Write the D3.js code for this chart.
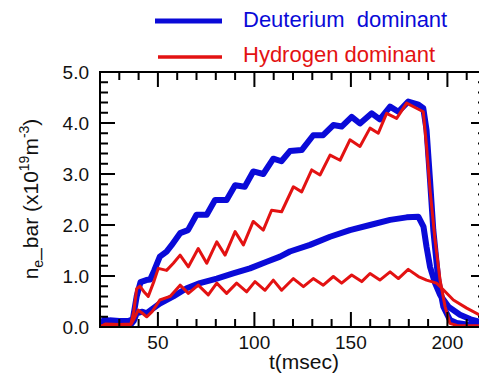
<!DOCTYPE html>
<html>
<head>
<meta charset="utf-8">
<script src="https://cdn.jsdelivr.net/npm/d3@7.9.0/dist/d3.min.js"></script>
<style>
  html, body { margin: 0; padding: 0; background: #fff; }
  svg { display: block; font-family: Arial, "Liberation Sans", sans-serif; }
</style>
</head>
<body>
<svg id="chart" width="479" height="374"></svg>
<script>
// ---- data (t in msec, density in 1e19 m^-3) ----
const dHighT = [20, 22, 25, 30, 35, 37, 39, 41, 44, 46, 48, 51, 54.5, 57, 61.5, 65.6, 70, 75.3, 79.6, 85.6, 90, 95, 99.4, 104.6, 109.8, 114, 118.4, 124.5, 130.5, 135.6, 140.9, 145.2, 150.4, 154.7, 160.8, 165, 170.3, 174.6, 179.7, 185, 187.5, 189.2, 191, 192.7, 195.3, 197.9, 201.3, 204.8, 210, 216, 220];
const dHighV = [0.0, 0.14, 0.13, 0.12, 0.12, 0.15, 0.6, 0.88, 0.92, 0.93, 1.1, 1.38, 1.48, 1.6, 1.84, 1.9, 2.2, 2.2, 2.49, 2.49, 2.78, 2.75, 3.05, 3.0, 3.3, 3.25, 3.45, 3.47, 3.76, 3.76, 3.96, 3.93, 4.12, 3.99, 4.19, 4.07, 4.32, 4.22, 4.42, 4.36, 4.29, 3.86, 2.88, 1.9, 0.92, 0.4, 0.14, 0.08, 0.05, 0.04, 0.03];

const dLowT = [20, 25, 30, 36, 37.5, 39, 42, 44.2, 47, 51, 58, 64.9, 71.8, 80.5, 89, 97.7, 106.4, 113.3, 118.4, 128.8, 139.2, 149.5, 159.9, 170.3, 178.9, 185, 187.6, 189.2, 191, 193.6, 196.2, 200.5, 206.5, 212, 220];
const dLowV = [0.0, 0.05, 0.05, 0.05, 0.12, 0.27, 0.3, 0.27, 0.35, 0.46, 0.6, 0.76, 0.86, 0.95, 1.05, 1.15, 1.28, 1.38, 1.48, 1.61, 1.77, 1.9, 2.0, 2.1, 2.15, 2.16, 1.97, 1.57, 1.18, 0.86, 0.63, 0.4, 0.24, 0.15, 0.07];

const hHighT = [20, 23, 30, 36, 37.5, 39, 40.7, 43, 45, 48, 50.2, 54.5, 58, 61.5, 65.8, 70.9, 75.3, 80.5, 84.8, 90, 94.3, 99.4, 104.6, 108.9, 114.1, 120.2, 124.5, 129.7, 134, 139.2, 144.4, 149.5, 154.7, 159.9, 164.2, 168.5, 173.7, 178.9, 184, 187.5, 189.2, 191, 193.6, 196.2, 198.8, 201.3, 205, 220];
const hHighV = [0.0, 0.06, 0.05, 0.06, 0.3, 0.75, 0.8, 0.68, 0.6, 0.9, 1.15, 1.11, 1.25, 1.41, 1.18, 1.54, 1.25, 1.67, 1.41, 1.87, 1.61, 2.07, 1.9, 2.29, 2.26, 2.75, 2.65, 3.08, 2.98, 3.37, 3.27, 3.67, 3.54, 3.9, 3.8, 4.19, 4.09, 4.39, 4.29, 4.22, 3.54, 2.69, 1.71, 0.92, 0.4, 0.07, 0.03, 0.02];

const hLowT = [20, 23, 30, 36, 37.5, 39.8, 42, 44.2, 47, 51, 56.3, 61.5, 65.8, 70.9, 76.1, 80.5, 85.6, 90.8, 96, 100.3, 105.5, 109.8, 114.1, 120.2, 125.4, 130.5, 135.7, 140.9, 145.2, 150.4, 155.6, 159.9, 165, 170.3, 174.6, 179.7, 185, 189.2, 194.4, 197.9, 203.1, 210, 216.4, 220];
const hLowV = [0.0, 0.05, 0.04, 0.05, 0.15, 0.33, 0.27, 0.2, 0.3, 0.53, 0.6, 0.82, 0.66, 0.82, 0.63, 0.86, 0.66, 0.86, 0.69, 0.89, 0.72, 0.92, 0.72, 0.95, 0.79, 0.95, 0.82, 0.99, 0.86, 1.02, 0.89, 1.05, 0.92, 1.08, 0.95, 1.13, 0.99, 0.92, 0.86, 0.73, 0.53, 0.37, 0.24, 0.2];

const xMajorTicks = [50, 100, 150, 200];
const yMajorTicks = [0, 1, 2, 3, 4, 5];
const legendLabels = ['Deuterium  dominant', 'Hydrogen dominant'];

const BLUE = '#0a0ad8';
const RED = '#e31212';

// ---- layout ----
const svg = d3.select('#chart');
const x = d3.scaleLinear().domain([20, 220]).range([100, 486]);
const y = d3.scaleLinear().domain([0, 5]).range([327, 72]);

svg.append('clipPath').attr('id', 'plot-clip')
  .append('rect')
  .attr('x', x(20)).attr('y', y(5))
  .attr('width', x(220) - x(20)).attr('height', y(0) - y(5));

const zip = (ts, vs) => ts.map((t, i) => [t, vs[i]]);
const line = d3.line().x(d => x(d[0])).y(d => y(d[1]));

// ---- curves (blue first, red on top) ----
const series = [
  { pts: zip(dHighT, dHighV), color: BLUE, w: 6 },
  { pts: zip(dLowT, dLowV), color: BLUE, w: 6 },
  { pts: zip(hHighT, hHighV), color: RED, w: 3 },
  { pts: zip(hLowT, hLowV), color: RED, w: 3 },
];

svg.append('g').attr('clip-path', 'url(#plot-clip)')
  .selectAll('path')
  .data(series)
  .join('path')
  .attr('d', d => line(d.pts))
  .attr('fill', 'none')
  .attr('stroke', d => d.color)
  .attr('stroke-width', d => d.w)
  .attr('stroke-linejoin', 'round')
  .attr('stroke-linecap', 'round');

// ---- frame + ticks ----
const xMinor = d3.range(30, 220, 10).filter(t => !xMajorTicks.includes(t));
const yMinor = d3.range(0.2, 5, 0.2).filter(v => Math.abs(v - Math.round(v)) > 0.01);
const axes = svg.append('g').attr('stroke', '#000').attr('stroke-width', 2);

axes.append('rect')
  .attr('x', x(20)).attr('y', y(5))
  .attr('width', x(220) - x(20)).attr('height', y(0) - y(5))
  .attr('fill', 'none');

const tickPath = [];
xMajorTicks.forEach(t => {
  tickPath.push(`M${x(t)},${y(0)}v-15`, `M${x(t)},${y(5)}v15`);
});
xMinor.forEach(t => {
  tickPath.push(`M${x(t)},${y(0)}v-8`, `M${x(t)},${y(5)}v8`);
});
yMajorTicks.slice(1, -1).forEach(v => {
  tickPath.push(`M${x(20)},${y(v)}h15`, `M${x(220)},${y(v)}h-15`);
});
yMinor.forEach(v => {
  tickPath.push(`M${x(20)},${y(v)}h8`, `M${x(220)},${y(v)}h-8`);
});
axes.append('path').attr('d', tickPath.join('')).attr('fill', 'none');

// ---- tick labels ----
svg.append('g').selectAll('text')
  .data(xMajorTicks)
  .join('text')
  .attr('x', d => x(d))
  .attr('y', 349)
  .attr('text-anchor', 'middle')
  .attr('font-size', 19)
  .attr('fill', '#111')
  .text(d => d);

svg.append('g').selectAll('text')
  .data(yMajorTicks)
  .join('text')
  .attr('x', 89)
  .attr('y', d => y(d) + 7)
  .attr('text-anchor', 'end')
  .attr('font-size', 19)
  .attr('fill', '#111')
  .text(d => d.toFixed(1));

// ---- axis titles ----
svg.append('text')
  .attr('x', 304).attr('y', 369)
  .attr('text-anchor', 'middle')
  .attr('font-size', 21)
  .attr('fill', '#111')
  .text('t(msec)');

const yTitle = svg.append('text')
  .attr('transform', 'translate(38,199) rotate(-90)')
  .attr('text-anchor', 'middle')
  .attr('font-size', 21)
  .attr('fill', '#111');
yTitle.append('tspan').text('n');
yTitle.append('tspan').attr('font-size', 14).attr('dy', 5).text('e');
yTitle.append('tspan').attr('dy', -5).text('_bar (x10');
yTitle.append('tspan').attr('font-size', 14).attr('dy', -9).text('19');
yTitle.append('tspan').attr('dy', 9).text('m');
yTitle.append('tspan').attr('font-size', 14).attr('dy', -9).text('-3');
yTitle.append('tspan').attr('dy', 9).text(')');

// ---- legend ----
const legend = svg.append('g');
const legendRows = [
  { label: legendLabels[0], color: BLUE, w: 5, x0: 155, ly: 21, ty: 27 },
  { label: legendLabels[1], color: RED, w: 3.5, x0: 158, ly: 57, ty: 62 },
];
legendRows.forEach(r => {
  legend.append('line')
    .attr('x1', r.x0).attr('x2', 222)
    .attr('y1', r.ly).attr('y2', r.ly)
    .attr('stroke', r.color).attr('stroke-width', r.w);
  legend.append('text')
    .attr('x', 243).attr('y', r.ty)
    .attr('font-size', 22)
    .attr('fill', r.color)
    .attr('xml:space', 'preserve')
    .style('white-space', 'pre')
    .text(r.label);
});
</script>
</body>
</html>
